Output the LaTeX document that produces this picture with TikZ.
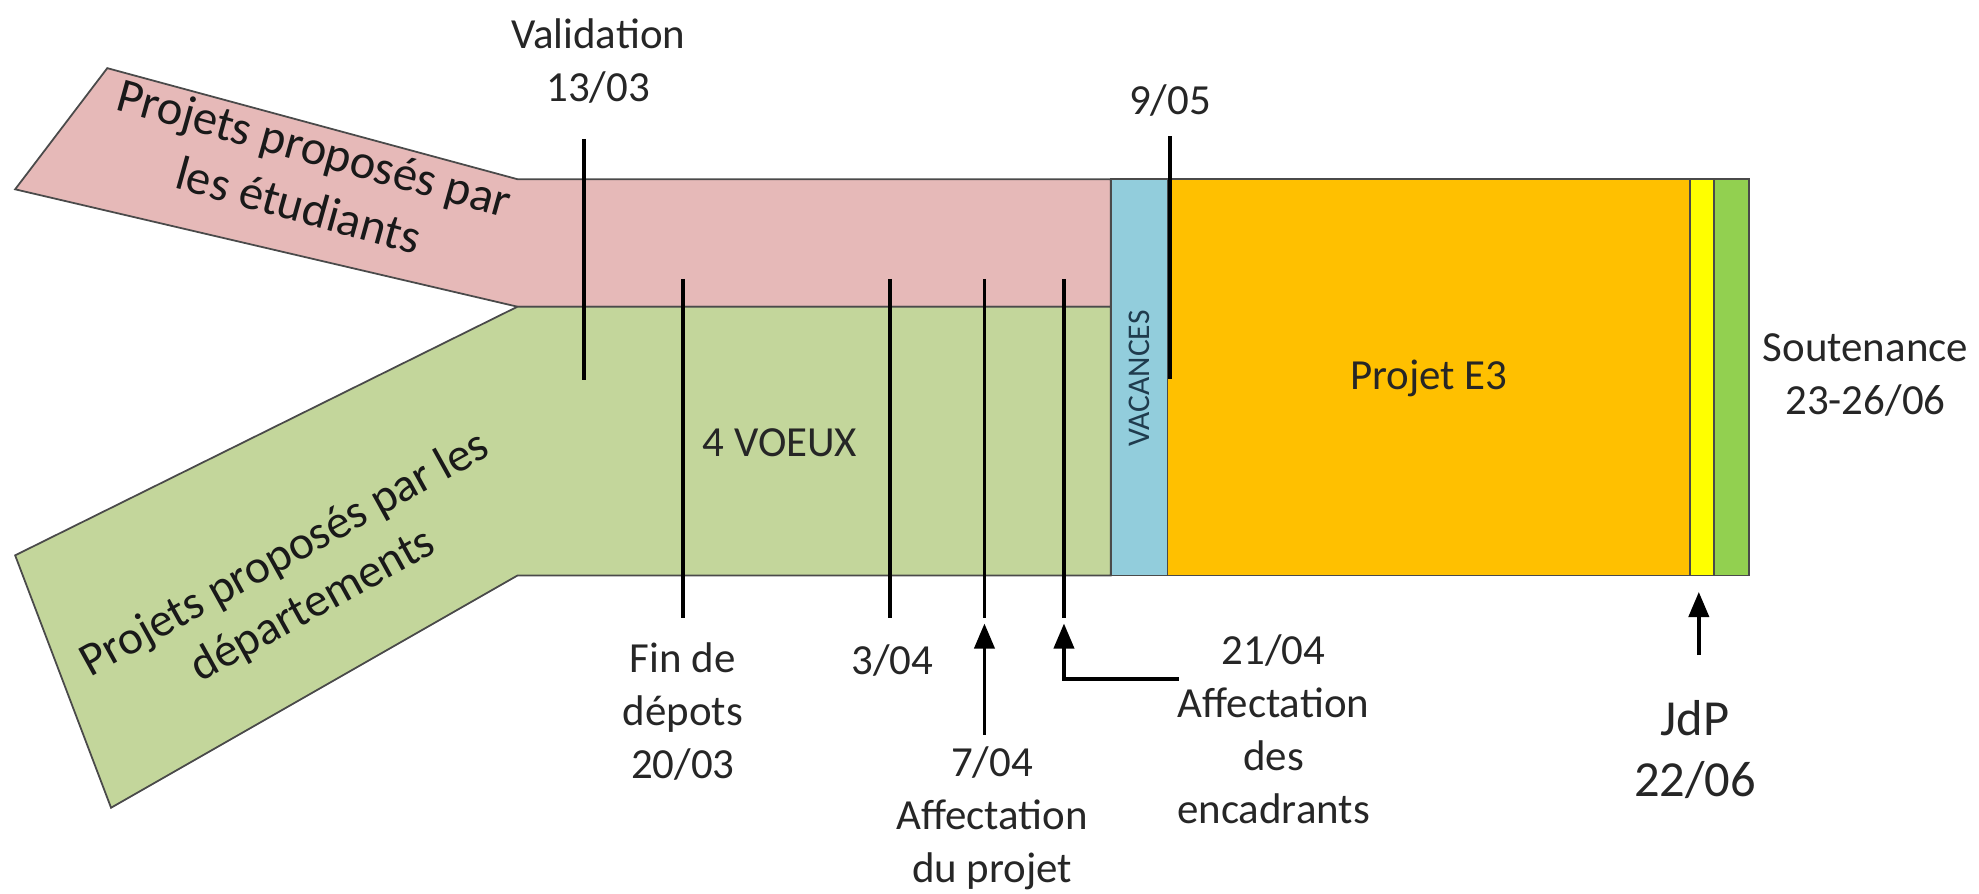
\documentclass[tikz,border=0pt]{standalone}
\usepackage{fontspec}
\setmainfont{Carlito}
\usetikzlibrary{arrows.meta}
\definecolor{pinkband}{HTML}{E6B9B8}
\definecolor{greenband}{HTML}{C3D69B}
\definecolor{vacblue}{HTML}{92CDDC}
\definecolor{projorange}{HTML}{FFC000}
\definecolor{jdpyellow}{HTML}{FFFF00}
\definecolor{soutgreen}{HTML}{92D050}
\definecolor{edgegray}{HTML}{4A4A4A}
\definecolor{txtgray}{HTML}{262626}
\definecolor{vactxt}{HTML}{1F3B4D}
\begin{document}
\begin{tikzpicture}[x=1pt,y=-1pt,
  band/.style={draw=edgegray,line width=1.4pt,line join=miter},
  lbl/.style={font=\fontsize{34}{42}\selectfont,text=txtgray,align=center,inner sep=0pt},
  biglbl/.style={font=\fontsize{40}{48}\selectfont,text=txtgray,align=center,inner sep=0pt},
  slantlbl/.style={text=black!90,align=center,inner sep=0pt},
  tickline/.style={line width=3pt,black},
  uparrow/.style={line width=3pt,black,-{Triangle[length=20pt,width=16pt]}}]
\useasboundingbox[fill=white] (0,0) rectangle (1568,708);
% shapes
\draw[band,fill=pinkband] (85,54) -- (410,142) -- (880,142) -- (880,243) -- (410,243) -- (12,150) -- cycle;
\draw[band,fill=greenband] (410,243) -- (880,243) -- (880,456) -- (410,456) -- (88,640) -- (12,440) -- cycle;
\draw[band,fill=vacblue] (880,142) rectangle (925,456);
\draw[band,fill=projorange] (925,142) rectangle (1339,456);
\draw[band,fill=jdpyellow] (1339,142) rectangle (1358,456);
\draw[band,fill=soutgreen] (1358,142) rectangle (1386,456);
% texts in shapes
\node[slantlbl,rotate=-15.5,font=\fontsize{38.5}{47}\selectfont] (etud) at (243,140) {Projets proposés par\\les étudiants};
\node[slantlbl,rotate=29,font=\fontsize{37.5}{46}\selectfont] (dept) at (237,460) {Projets proposés par les\\départements};
\node[lbl] (voeux) at (618,351) {4 VOEUX};
\node[lbl,rotate=90,font=\fontsize{25}{30}\selectfont,text=vactxt] (vac) at (903,300) {VACANCES};
\node[lbl] (e3) at (1132,300) {Projet E3};
% labels
\node[lbl] (valid) at (474,48) {Validation\\13/03};
\node[lbl] (mai) at (927,80) {9/05};
\node[lbl] (fin) at (541,564) {Fin de\\dépots\\20/03};
\node[lbl] (avr3) at (707,523) {3/04};
\node[lbl] (avr7) at (786,648) {7/04\\Affectation\\du projet};
\node[lbl] (avr21) at (1009,578) {21/04\\Affectation\\des\\encadrants};
\node[biglbl] (jdp) at (1343,594) {JdP\\22/06};
\node[lbl] (sout) at (1478,297) {Soutenance\\23-26/06};
% tick lines
\coordinate (valT) at (463,110); \coordinate (valB) at (463,301);
\coordinate (maiT) at (927,108); \coordinate (maiB) at (927,300);
\coordinate (finT) at (541,221); \coordinate (finB) at (541,490);
\coordinate (a3T) at (705,221); \coordinate (a3B) at (705,490);
\coordinate (a7T) at (780,221); \coordinate (a7B) at (780,490);
\coordinate (a21T) at (843,221); \coordinate (a21B) at (843,490);
\draw[tickline] (valT) -- (valB);
\draw[tickline] (maiT) -- (maiB);
\draw[tickline] (finT) -- (finB);
\draw[tickline] (a3T) -- (a3B);
\draw[tickline] (a7T) -- (a7B);
\draw[tickline] (a21T) -- (a21B);
% arrows
\coordinate (a7S) at (780,582); \coordinate (a7E) at (780,494);
\coordinate (a21S) at (934,538); \coordinate (a21E) at (843,494);
\coordinate (jdpS) at (1346,519); \coordinate (jdpE) at (1346,469);
\draw[uparrow] (a7S) -- (a7E);
\draw[uparrow] (a21S) -| (a21E);
\draw[uparrow] (jdpS) -- (jdpE);
\end{tikzpicture}
\end{document}
